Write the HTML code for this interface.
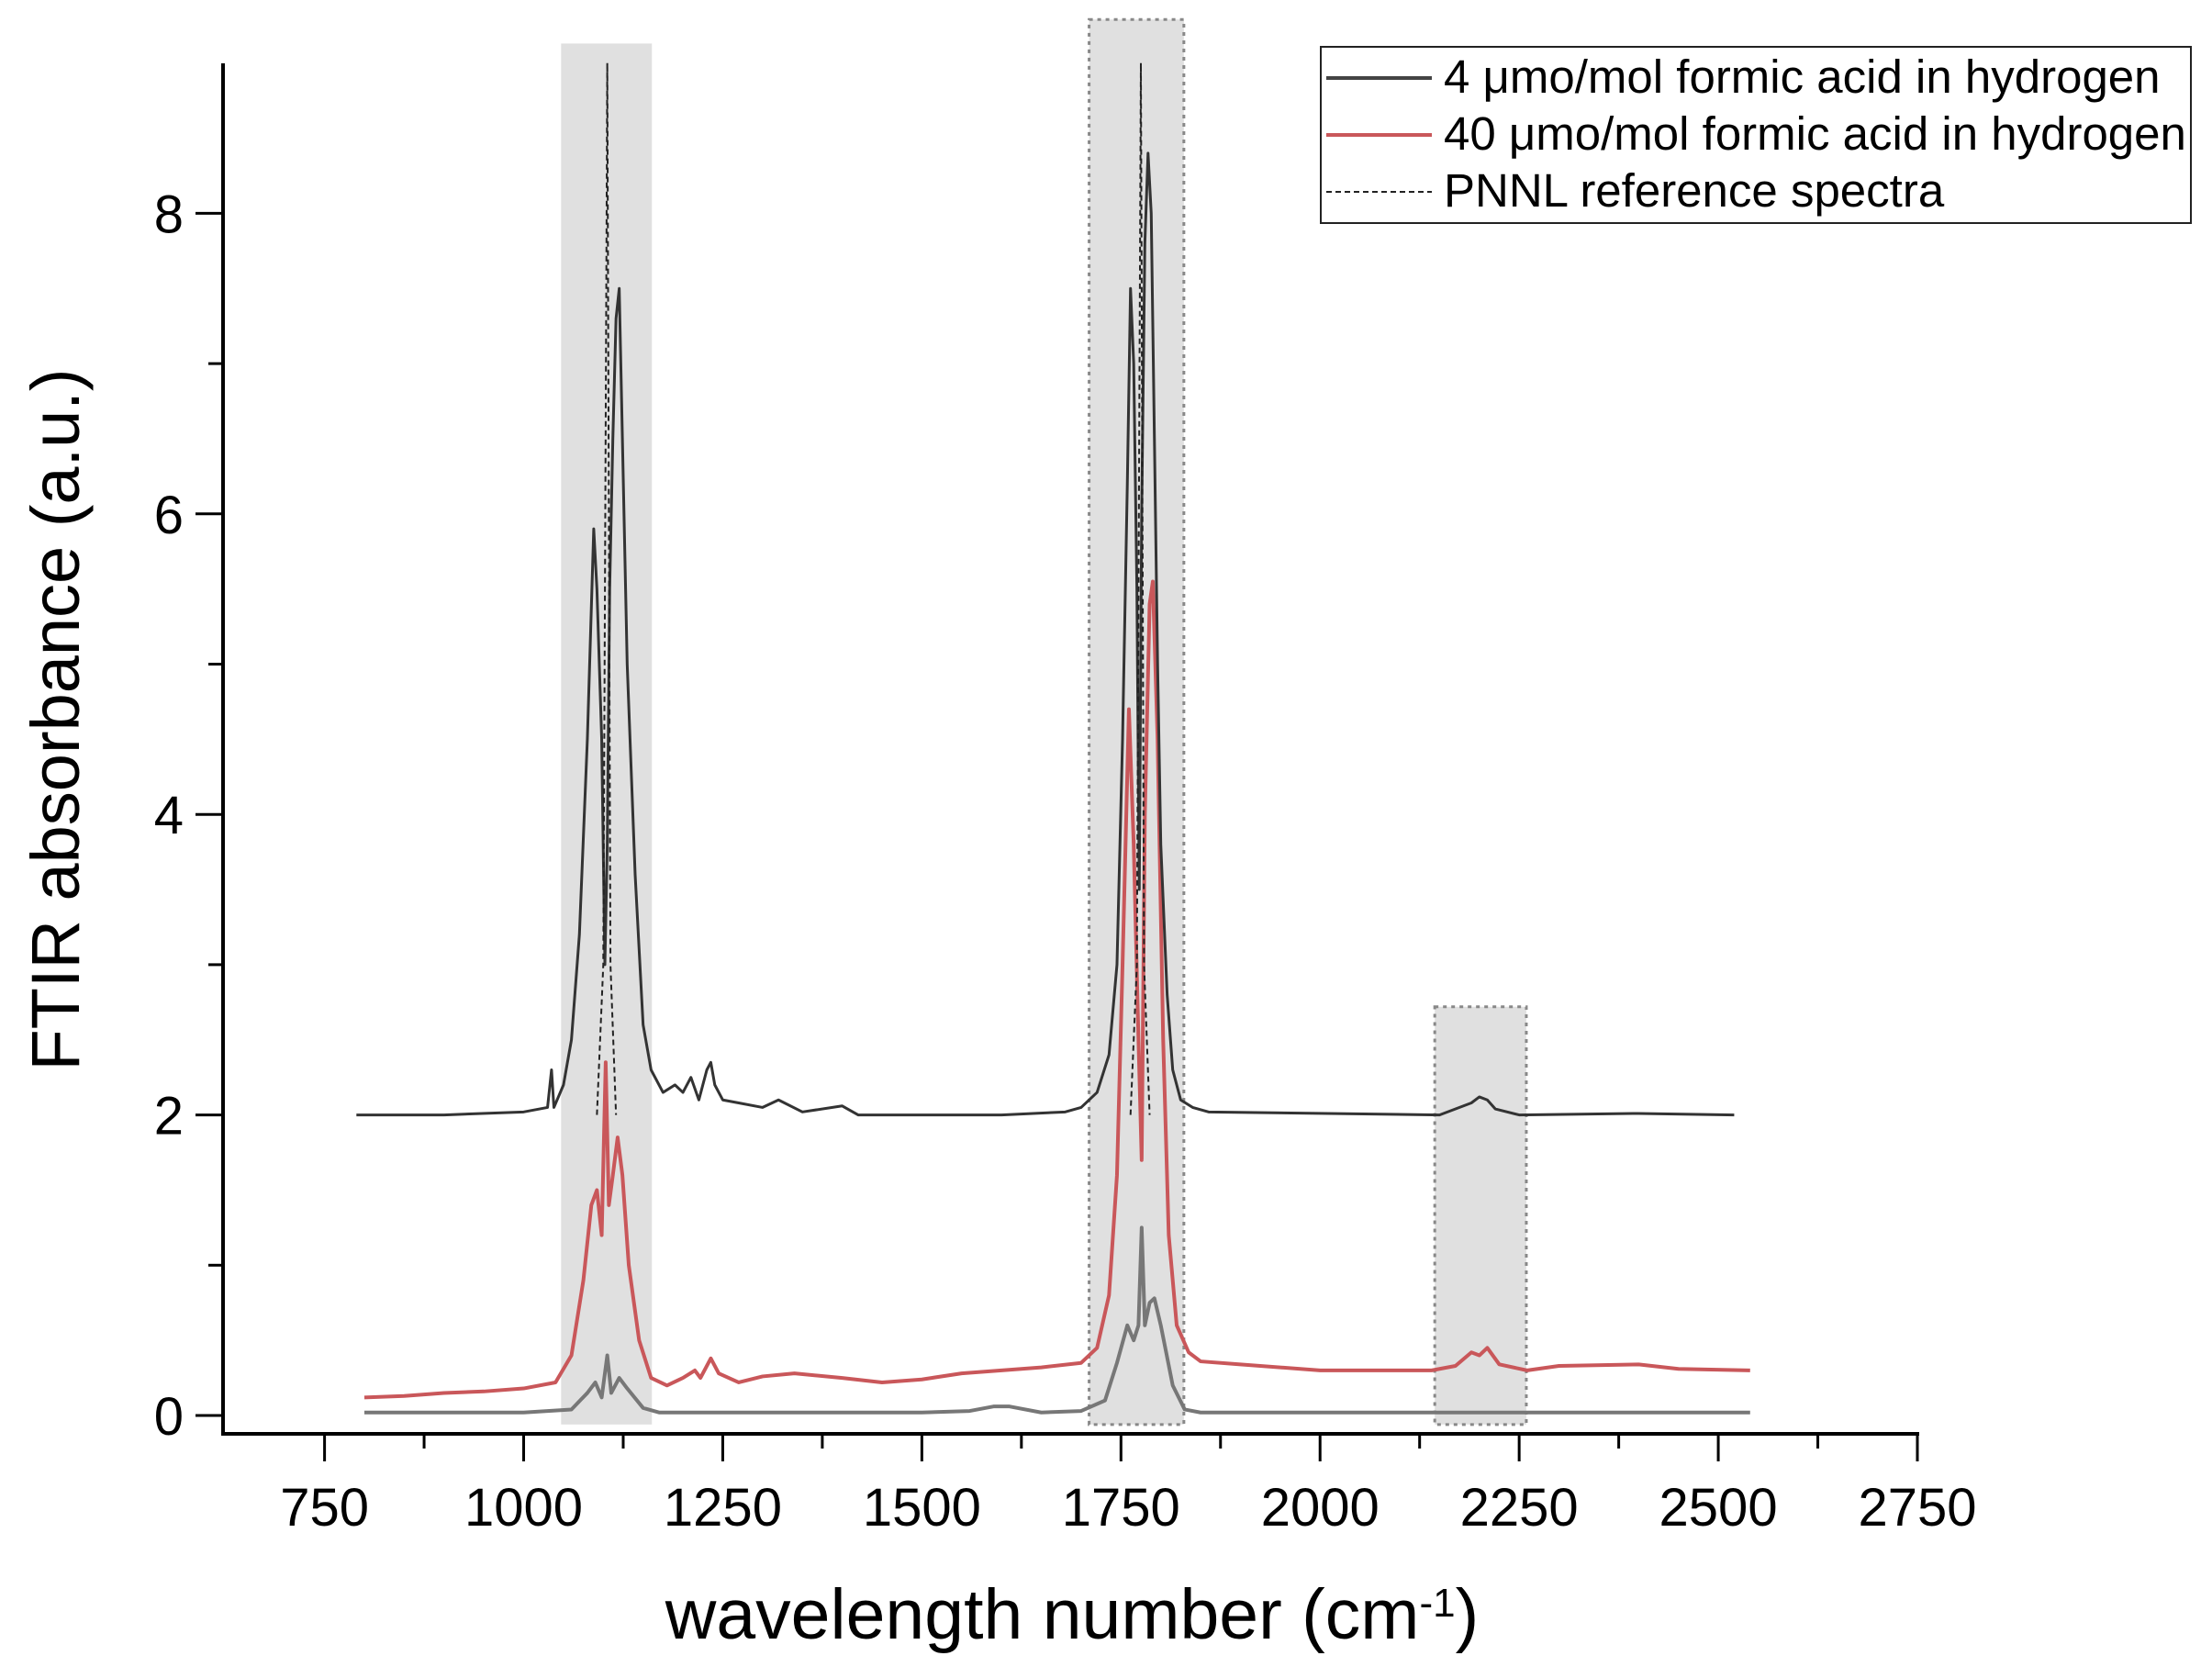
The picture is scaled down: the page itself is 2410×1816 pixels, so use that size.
<!DOCTYPE html>
<html><head><meta charset="utf-8"><style>
html,body{margin:0;padding:0;background:#fff}
svg{display:block;font-family:"Liberation Sans",Arial,sans-serif}
</style></head><body>
<svg id="chart" width="2410" height="1816" viewBox="0 0 2410 1816" xmlns="http://www.w3.org/2000/svg">
<g id="shades"></g>
<g id="series"></g>
<g id="axes"></g>
<g id="legend">
  <rect x="1439" y="51" width="948" height="192" fill="#fff" stroke="#222" stroke-width="2"/>
  <line x1="1445" y1="85" x2="1560" y2="85" stroke="#444" stroke-width="4"/>
  <text x="1573" y="101" font-size="51">4 μmo/mol formic acid in hydrogen</text>
  <line x1="1445" y1="147" x2="1560" y2="147" stroke="#c9575a" stroke-width="4"/>
  <text x="1573" y="163" font-size="51">40 μmo/mol formic acid in hydrogen</text>
  <line x1="1445" y1="209" x2="1560" y2="209" stroke="#222" stroke-width="2" stroke-dasharray="6,4"/>
  <text x="1573" y="225" font-size="51">PNNL reference spectra</text>
</g>
<text x="1168" y="1785" font-size="77" text-anchor="middle">wavelength number (cm<tspan baseline-shift="super" font-size="44">-1</tspan>)</text>
<text transform="translate(86,784) rotate(-90)" font-size="74" text-anchor="middle">FTIR absorbance (a.u.)</text>
</svg>
<script>
const xTicks = [750,1000,1250,1500,1750,2000,2250,2500,2750];
const xMinorTicks = [875,1125,1375,1625,1875,2125,2375,2625];
const yTicks = [0,2,4,6,8];
const yMinorTicks = [1,3,5,7];
const shadeStart = [1047,1710,2144];
const shadeEnd = [1161,1829,2259];
const shadeTop = [9.13,9.29,2.72];
const shadeBordered = [false,true,true];
const black4 = [[790,2.0],[900,2.0],[1000,2.02],[1030,2.05],[1035,2.3],[1038,2.05],[1050,2.2],[1060,2.5],[1070,3.2],[1080,4.5],[1088,5.9],[1092,5.5],[1098,4.5],[1102,3.0],[1105,3.8],[1108,5.5],[1112,6.5],[1116,7.3],[1120,7.5],[1124,6.5],[1130,5.0],[1140,3.6],[1150,2.6],[1160,2.3],[1175,2.15],[1190,2.2],[1200,2.15],[1210,2.25],[1220,2.1],[1230,2.3],[1235,2.35],[1240,2.2],[1250,2.1],[1270,2.08],[1300,2.05],[1320,2.1],[1350,2.02],[1400,2.06],[1420,2.0],[1600,2.0],[1680,2.02],[1700,2.05],[1720,2.15],[1735,2.4],[1745,3.0],[1752,4.5],[1758,6.2],[1762,7.5],[1766,7.0],[1770,5.5],[1773,3.5],[1776,6.0],[1780,7.8],[1784,8.4],[1788,8.0],[1792,6.5],[1796,5.0],[1800,3.8],[1808,2.8],[1815,2.3],[1825,2.1],[1840,2.05],[1860,2.02],[2150,2.0],[2190,2.08],[2200,2.12],[2210,2.1],[2220,2.04],[2250,2.0],[2400,2.01],[2520,2.0]];
const gray4 = [[800,0.02],[1000,0.02],[1060,0.04],[1080,0.15],[1090,0.22],[1098,0.12],[1105,0.4],[1110,0.15],[1120,0.25],[1130,0.18],[1150,0.05],[1170,0.02],[1500,0.02],[1560,0.03],[1590,0.06],[1610,0.06],[1650,0.02],[1700,0.03],[1730,0.1],[1745,0.35],[1758,0.6],[1766,0.5],[1772,0.6],[1776,1.25],[1780,0.6],[1786,0.75],[1792,0.78],[1800,0.6],[1815,0.2],[1830,0.04],[1850,0.02],[2540,0.02]];
const red40 = [[800,0.12],[850,0.13],[900,0.15],[950,0.16],[1000,0.18],[1040,0.22],[1060,0.4],[1075,0.9],[1085,1.4],[1092,1.5],[1098,1.2],[1103,2.35],[1107,1.4],[1112,1.6],[1118,1.85],[1124,1.6],[1132,1.0],[1145,0.5],[1160,0.25],[1180,0.2],[1200,0.25],[1215,0.3],[1222,0.25],[1235,0.38],[1245,0.28],[1270,0.22],[1300,0.26],[1340,0.28],[1400,0.25],[1450,0.22],[1500,0.24],[1550,0.28],[1600,0.3],[1650,0.32],[1700,0.35],[1720,0.45],[1735,0.8],[1745,1.6],[1752,3.0],[1760,4.7],[1766,3.8],[1772,2.5],[1776,1.7],[1780,4.0],[1786,5.4],[1790,5.55],[1796,4.5],[1803,2.5],[1810,1.2],[1820,0.6],[1835,0.42],[1850,0.36],[1900,0.34],[2000,0.3],[2140,0.3],[2170,0.33],[2190,0.42],[2200,0.4],[2210,0.45],[2225,0.34],[2260,0.3],[2300,0.33],[2400,0.34],[2450,0.31],[2540,0.3]];
const pnnlA = [[1092,2.0],[1100,3.0],[1105,9.0],[1109,3.0],[1116,2.0]];
const pnnlB = [[1762,2.0],[1770,3.0],[1775,9.0],[1779,3.0],[1786,2.0]];

const X = v => 353.6 + (v - 750) * 0.8677;
const Y = v => 1542 - v * 163.7;
const NS = "http://www.w3.org/2000/svg";
function mk(tag, attrs, parent){ const e=document.createElementNS(NS,tag); for(const k in attrs) e.setAttribute(k,attrs[k]); parent.appendChild(e); return e; }

const shades = document.getElementById('shades');
shadeStart.forEach((s,i)=>{
  const r = mk('rect',{x:X(s),y:Y(shadeTop[i]),width:X(shadeEnd[i])-X(s),height:Y(-0.06)-Y(shadeTop[i]),fill:'#e0e0e0',stroke:shadeBordered[i]?'#888':'none','stroke-width':3,'stroke-dasharray':'4,5'},shades);
  
  
});

const series = document.getElementById('series');
function line(data, color, width, dash, name){
  const p = mk('polyline',{points:data.map(d=>X(d[0])+','+Y(d[1])).join(' '),fill:'none',stroke:color,'stroke-width':width,'stroke-linejoin':'round'},series);
  if(dash) p.setAttribute('stroke-dasharray',dash);
  
  
}
line(red40,'#c9575a',4,null,'series-40umol');
line(gray4,'#777',4,null,'series-4umol-baseline');
line(black4,'#333',3,null,'series-4umol-offset');
line(pnnlA,'#222',2,'6,4','pnnl-reference-peak-1');
line(pnnlB,'#222',2,'6,4','pnnl-reference-peak-2');

const axes = document.getElementById('axes');
const ax1 = mk('line',{x1:243,y1:69,x2:243,y2:1562,stroke:'#000','stroke-width':4},axes);


const ax2 = mk('line',{x1:241,y1:1562,x2:2091,y2:1562,stroke:'#000','stroke-width':4},axes);


xTicks.forEach(v=>{
  mk('line',{x1:X(v),y1:1562,x2:X(v),y2:1592,stroke:'#000','stroke-width':3},axes);
  const t = mk('text',{x:X(v),y:1662,'font-size':58,'text-anchor':'middle'},axes);
  t.textContent = v;
  
  
});
xMinorTicks.forEach(v=>{ mk('line',{x1:X(v),y1:1562,x2:X(v),y2:1578,stroke:'#000','stroke-width':3},axes); });
yTicks.forEach(v=>{
  mk('line',{x1:243,y1:Y(v),x2:213,y2:Y(v),stroke:'#000','stroke-width':3},axes);
  const t = mk('text',{x:200,y:Y(v)+21,'font-size':58,'text-anchor':'end'},axes);
  t.textContent = v;
  
  
});
yMinorTicks.forEach(v=>{ mk('line',{x1:243,y1:Y(v),x2:227,y2:Y(v),stroke:'#000','stroke-width':3},axes); });
</script>
</body></html>
